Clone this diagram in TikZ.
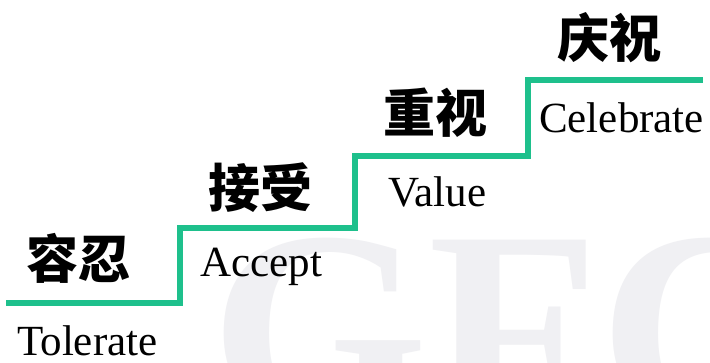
\documentclass[tikz,border=0pt]{standalone}
\usepackage{fontspec}
\setmainfont{Liberation Serif}
\newfontfamily\cjk{Noto Sans CJK SC}
\definecolor{stair}{RGB}{30,192,140}
\definecolor{wm}{RGB}{240,240,243}
\begin{document}
\begin{tikzpicture}[x=1pt,y=-1pt,
  cn/.style={font=\cjk\bfseries\fontsize{52}{52}\selectfont, inner sep=0pt},
  en/.style={font=\fontsize{43}{43}\selectfont, inner sep=0pt, anchor=base west},
  stairline/.style={draw=stair, line width=6.5pt, line join=miter}]
\useasboundingbox (0,0) rectangle (710,363);
\clip (0,0) rectangle (710,363);
\fill[white] (0,0) rectangle (710,363);
\node[font=\bfseries\fontsize{280}{280}\selectfont, text=wm, anchor=base west, inner sep=0pt] (wmark) at (210,424) {GFC};
\coordinate (s0) at (6,303);
\coordinate (c1) at (180,303);
\coordinate (c2) at (180,228);
\coordinate (c3) at (355,228);
\coordinate (c4) at (355,156);
\coordinate (c5) at (528,156);
\coordinate (c6) at (528,80);
\coordinate (s1) at (703,80);
\draw[stairline] (s0) -- (c1) -- (c2) -- (c3) -- (c4) -- (c5) -- (c6) -- (s1);
\node[cn] (rr) at (78.5,258.5) {容忍};
\node[cn] (js) at (260,188) {接受};
\node[cn] (zs) at (435,112.5) {重视};
\node[cn] (qz) at (609,38) {庆祝};
\node[en] (tol) at (17,356) {Tolerate};
\node[en] (acc) at (200,277) {Accept};
\node[en] (val) at (388,207) {Value};
\node[en] (cel) at (539,133) {Celebrate};
\end{tikzpicture}
\end{document}
